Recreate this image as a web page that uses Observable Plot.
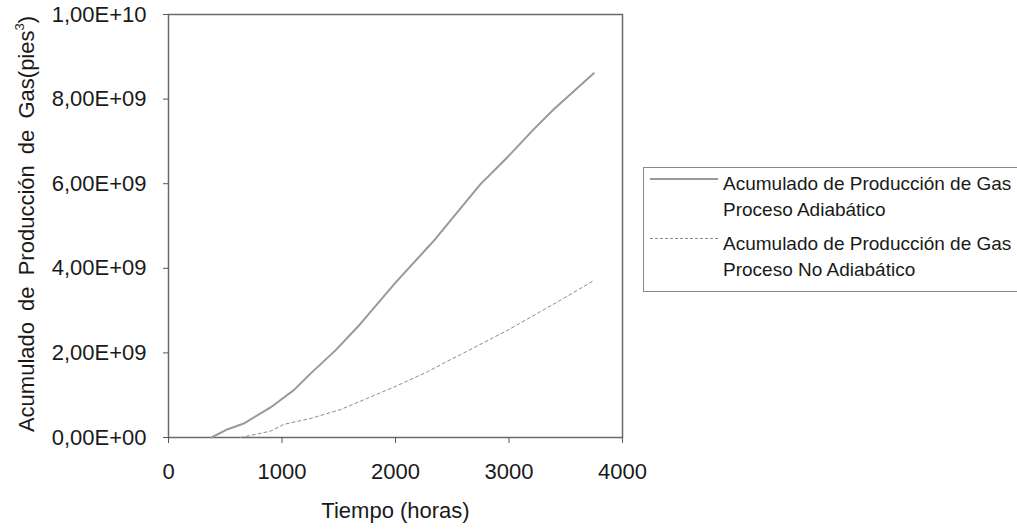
<!DOCTYPE html>
<html>
<head>
<meta charset="utf-8">
<script src="https://cdn.jsdelivr.net/npm/d3@7"></script>
<script src="https://cdn.jsdelivr.net/npm/@observablehq/plot@0.6"></script>
<style>
  html, body { margin: 0; padding: 0; background: #fff; }
  #wrap { position: relative; width: 1017px; height: 529px; font-family: "Liberation Sans", Arial, sans-serif; color: #1a1a1a; }
  #ylabel { position: absolute; left: 27px; top: 224px; transform: translate(-50%, -50%) rotate(-90deg); white-space: nowrap; font-size: 22px; word-spacing: 5px; line-height: 24px; }
  #ylabel sup { font-size: 13px; vertical-align: 10px; line-height: 0; }
  #legend { position: absolute; left: 643px; top: 167px; width: 374px; height: 125px; border: 1px solid #8a8a8a; border-right: none; box-sizing: border-box; font-size: 19px; }
  .swatch { position: absolute; left: 6px; width: 68px; }
  .txt { position: absolute; left: 79px; line-height: 26px; white-space: nowrap; }
</style>
</head>
<body>
<div id="wrap">
  <div id="chart"></div>
  <div id="ylabel">Acumulado de Producción de Gas(pies<sup>3</sup>)</div>
  <div id="legend"></div>
</div>
<script>
// Series: Tiempo (horas) vs Acumulado de Producción de Gas (pies^3)
const legendLines = [
  ["Acumulado de Producción de Gas", "Proceso Adiabático"],
  ["Acumulado de Producción de Gas", "Proceso No Adiabático"]
];
const tiempoAdiabatico = [379, 517, 663, 899, 1104, 1251, 1471, 1692, 2000, 2279, 2337, 2749, 2984, 3219, 3395, 3747];
const gasAdiabatico    = [0, 0.19e9, 0.33e9, 0.71e9, 1.12e9, 1.51e9, 2.06e9, 2.69e9, 3.66e9, 4.48e9, 4.65e9, 5.99e9, 6.62e9, 7.29e9, 7.76e9, 8.61e9];
const tiempoNoAdiabatico = [634, 899, 1016, 1251, 1515, 1985, 2279, 2426, 2573, 2984, 3424, 3747];
const gasNoAdiabatico    = [0, 0.15e9, 0.31e9, 0.45e9, 0.66e9, 1.19e9, 1.55e9, 1.76e9, 1.96e9, 2.53e9, 3.20e9, 3.71e9];
const xTicks = [0, 1000, 2000, 3000, 4000];
const yTicks = [0, 2e9, 4e9, 6e9, 8e9, 1e10];
const xLabel = "Tiempo (horas)";

const adiabatico = tiempoAdiabatico.map((t, i) => ({t, v: gasAdiabatico[i]}));
const noAdiabatico = tiempoNoAdiabatico.map((t, i) => ({t, v: gasNoAdiabatico[i]}));

function sci(d) {
  if (d === 0) return "0,00E+00";
  const e = Math.floor(Math.log10(d) + 1e-9);
  const m = d / Math.pow(10, e);
  return m.toFixed(2).replace(".", ",") + "E+" + String(e).padStart(2, "0");
}

const chart = Plot.plot({
  width: 1017,
  height: 529,
  marginLeft: 168,
  marginRight: 395,
  marginTop: 14,
  marginBottom: 92,
  style: { fontFamily: "Liberation Sans, Arial, sans-serif", fontSize: "22px", color: "#1a1a1a", background: "#fff" },
  x: { domain: [0, 4000] },
  y: { domain: [0, 1e10] },
  marks: [
    Plot.frame({ stroke: "#6a6a6a", strokeWidth: 1.5 }),
    Plot.axisX({ ticks: xTicks, tickSize: 6, tickPadding: 20, tickFormat: d => String(d), stroke: "#555", label: xLabel, labelAnchor: "center", labelArrow: "none", labelOffset: 80 }),
    Plot.axisY({ ticks: yTicks, tickSize: 5, tickPadding: 17, tickFormat: sci, stroke: "#555", label: null }),
    Plot.line(adiabatico, { x: "t", y: "v", stroke: "#999", strokeWidth: 2 }),
    Plot.line(noAdiabatico, { x: "t", y: "v", stroke: "#8c8c8c", strokeWidth: 1, strokeDasharray: "3,3" })
  ]
});
document.getElementById("chart").appendChild(chart);

const legend = document.getElementById("legend");
const items = [
  { border: "2px solid #999", swTop: 10, txTop: 3 },
  { border: "1px dashed #8c8c8c", swTop: 70, txTop: 63 }
];
legendLines.forEach((lines, i) => {
  const sw = document.createElement("div");
  sw.className = "swatch";
  sw.style.borderTop = items[i].border;
  sw.style.top = items[i].swTop + "px";
  const tx = document.createElement("div");
  tx.className = "txt";
  tx.style.top = items[i].txTop + "px";
  tx.innerHTML = lines.join("<br>");
  legend.appendChild(sw);
  legend.appendChild(tx);
});
</script>
</body>
</html>
